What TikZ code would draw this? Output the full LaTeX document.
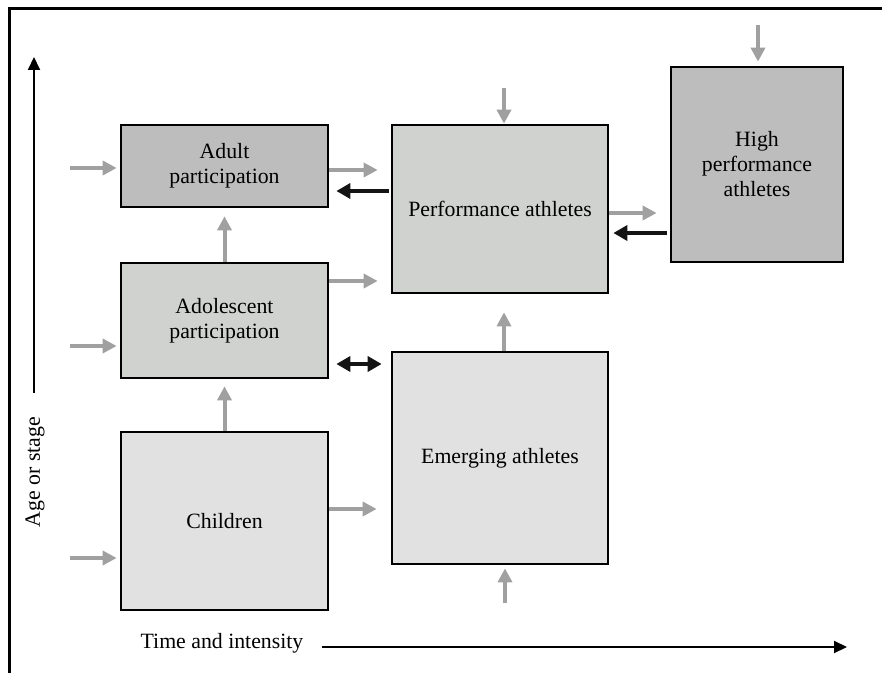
\documentclass[tikz,border=0pt]{standalone}
\usepackage{fontspec}
\setmainfont{Liberation Serif}
\usetikzlibrary{arrows.meta,positioning}

\definecolor{boxdark}{RGB}{189,189,189}
\definecolor{boxmid}{RGB}{208,210,208}
\definecolor{boxlight}{RGB}{225,225,225}
\definecolor{arrowgray}{RGB}{160,160,160}
\definecolor{arrowblack}{RGB}{20,20,20}

\begin{document}
\begin{tikzpicture}[x=0.5pt,y=-0.5pt,
  font=\fontsize{10.9}{12.5}\selectfont,
  stage/.style={draw=black, line width=1.35pt, align=center, inner sep=0pt},
  flow/.style={draw=arrowgray, line width=2pt, -{Triangle[length=7pt,width=7pt]}},
  back/.style={draw=arrowblack, line width=2.2pt, -{Triangle[length=7pt,width=7.5pt]}},
  axis/.style={line width=1pt, -{Triangle[length=6.5pt,width=6pt]}}]
\useasboundingbox (0,0) rectangle (882,673);

% Frame
\draw[line width=1.5pt] (9,673) -- (9,9) -- (882,9);

% Stages
\node[stage, fill=boxdark, minimum width=103.5pt, minimum height=41pt] (adult) at (224.5,166) {Adult\\participation};
\node[stage, fill=boxmid, minimum width=103.5pt, minimum height=57.5pt] (adol) at (224.5,320.5) {Adolescent\\participation};
\node[stage, fill=boxlight, minimum width=103.5pt, minimum height=89pt] (child) at (224.5,521) {Children};
\node[stage, fill=boxmid, minimum width=108pt, minimum height=84pt] (perf) at (500,209) {Performance athletes};
\node[stage, fill=boxlight, minimum width=108pt, minimum height=106pt] (emerg) at (500,458) {Emerging athletes};
\node[stage, fill=boxdark, minimum width=86pt, minimum height=97.5pt] (high) at (757,164.5) {High\\performance\\athletes};

% Inputs from outside
\coordinate (inadult) at (70,168);
\coordinate (inadol) at (70,346);
\coordinate (inchild) at (70,558);
\coordinate (inperf) at (504,88);
\coordinate (inemerg) at (505,603);
\coordinate (inhigh) at (758,25);
\draw[flow, shorten >=1.5pt] (inadult) -- (inadult -| adult.west);
\draw[flow, shorten >=1.5pt] (inadol) -- (inadol -| adol.west);
\draw[flow, shorten >=1.5pt] (inchild) -- (inchild -| child.west);
\draw[flow] (inperf) -- (inperf |- perf.north);
\draw[flow, shorten >=1.5pt] (inemerg) -- (inemerg |- emerg.south);
\draw[flow, shorten >=2pt] (inhigh) -- (inhigh |- high.north);

% Flows between stages
\draw[flow, shorten >=3.5pt] (child.north) -- (adol.south);
\draw[flow, shorten >=4pt] (adol.north) -- (adult.south);
\draw[flow, shorten >=6.5pt] (adult.east |- 0,170) -- (perf.west |- 0,170);
\draw[flow, shorten >=6.5pt] (adol.east |- 0,281) -- (perf.west |- 0,281);
\draw[flow, shorten >=7pt] (child.east |- 0,509) -- (emerg.west |- 0,509);
\draw[flow, shorten >=9pt] (emerg.north -| 504,0) -- (perf.south -| 504,0);
\draw[flow, shorten >=6.5pt] (perf.east |- 0,213) -- (high.west |- 0,213);

% Moves back down
\draw[back, shorten <=1pt, shorten >=3.5pt] (perf.west |- 0,191) -- (adult.east |- 0,191);
\draw[back, shorten <=1.5pt, shorten >=2pt] (high.west |- 0,233) -- (perf.east |- 0,233);
\draw[back, {Triangle[length=7pt,width=7.5pt]}-{Triangle[length=7pt,width=7.5pt]}, shorten <=3.5pt, shorten >=4.5pt] (adol.east |- 0,364) -- (emerg.west |- 0,364);

% Axes
\coordinate (ybot) at (34,393);
\coordinate (ytop) at (34,57);
\draw[axis] (ybot) -- (ytop);
\node[rotate=90] (agelabel) at (35,472) {Age or stage};
\node (timelabel) at (222,643) {Time and intensity};
\coordinate (xstart) at (322,647);
\coordinate (xend) at (847,647);
\draw[axis] (xstart) -- (xend);
\end{tikzpicture}
\end{document}
